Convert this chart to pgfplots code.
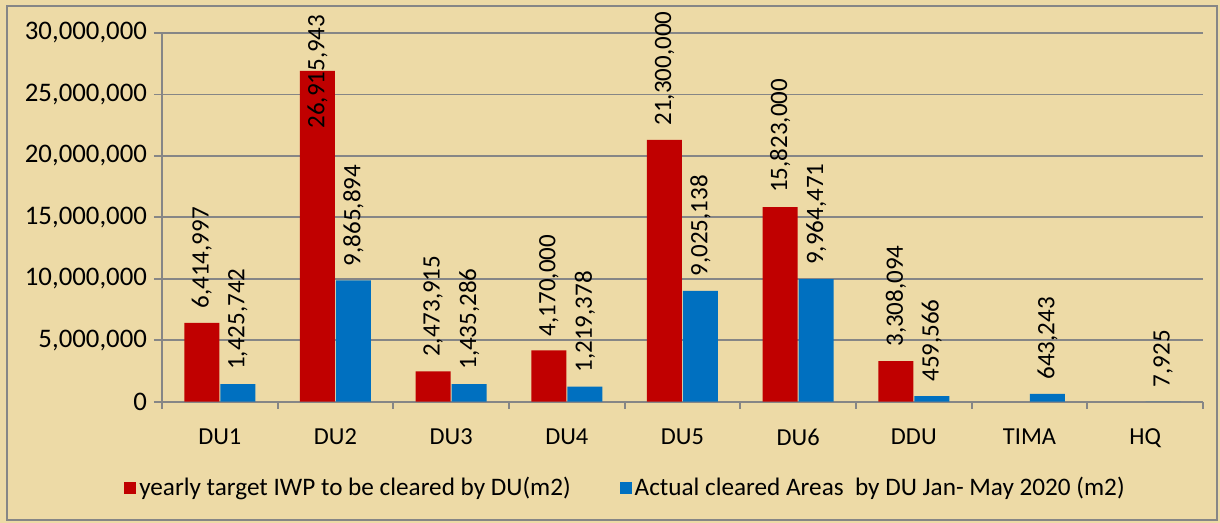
\documentclass[border=0pt]{standalone}
\usepackage{fontspec}
\setmainfont{Carlito}
\usepackage{pgfplots}
\pgfplotsset{compat=1.18}
\usepackage{pgfplotstable}
\definecolor{papyrus}{RGB}{237,218,166}
\definecolor{barred}{RGB}{192,0,0}
\definecolor{barblue}{RGB}{0,112,192}
\definecolor{gridgray}{RGB}{134,134,134}

\pgfplotstableread{
x val ly label
0 6414997 6414997 6,414,997
1 26915943 21050000 26,915,943
2 2473915 2473915 2,473,915
3 4170000 4170000 4,170,000
4 21300000 21300000 21,300,000
5 15823000 15823000 15,823,000
6 3308094 3308094 3,308,094
}\redtab

\pgfplotstableread{
x val ly label
0 1425742 1425742 1,425,742
1 9865894 9865894 9,865,894
2 1435286 1435286 1,435,286
3 1219378 1219378 1,219,378
4 9025138 9025138 9,025,138
5 9964471 9964471 9,964,471
6 459566 459566 459,566
7 643243 643243 643,243
8 7925 7925 7,925
}\bluetab

\begin{document}
\begin{tikzpicture}[font=\fontsize{12}{14.4}\selectfont]
\fill[papyrus] (0,0) rectangle (610pt,261.5pt);
\draw[gridgray, line width=1pt] (3.5pt,1.5pt) rectangle (608.5pt,258.5pt);
\begin{axis}[
  at={(81pt,60.65pt)}, anchor=south west,
  scale only axis, width=520.5pt, height=184.35pt,
  xmin=-0.5, xmax=8.5, ymin=0, ymax=30000000,
  ytick={0,5000000,10000000,15000000,20000000,25000000,30000000},
  scaled y ticks=false,
  yticklabel style={font=\fontsize{13.4}{15}\selectfont, /pgf/number format/.cd, fixed, 1000 sep={,}},
  /pgf/number format/assume math mode=true,
  ymajorgrids, y grid style={gridgray, line width=0.9pt},
  axis x line*=bottom, axis y line*=left,
  axis line style={gridgray, line width=0.9pt},
  xtick={0,1,2,3,4,5,6,7,8},
  xticklabels={DU1,DU2,DU3,DU4,DU5,DU6,DDU,TIMA,HQ},
  major x tick style={draw=none},
  minor xtick={-0.5,0.5,1.5,2.5,3.5,4.5,5.5,6.5,7.5,8.5},
  tick style={gridgray, line width=0.9pt},
  tick align=outside,
  major tick length=4pt, minor tick length=3.5pt,
  xticklabel style={yshift=-6pt, font=\fontsize{12.2}{14.4}\selectfont},
  clip=false,
  legend style={at={(0.4457,-0.2333)}, anchor=center, draw=none, fill=none,
    legend columns=2, font=\fontsize{12.6}{15}\selectfont,
    nodes={inner sep=1.5pt, text depth=0.15em},
    /tikz/every even column/.append style={column sep=23pt}},
]
\addplot[ybar, bar width=17.5pt, bar shift=-9pt, draw=none, fill=barred,
  legend image code/.code={\fill[barred] (0pt,-3pt) rectangle (6pt,3pt);}]
  table[x=x, y=val] {\redtab};
\addlegendentry{yearly target IWP to be cleared by DU(m2)}
\addplot[ybar, bar width=17.5pt, bar shift=9pt, draw=none, fill=barblue,
  legend image code/.code={\fill[barblue] (0pt,-3pt) rectangle (6pt,3pt);}]
  table[x=x, y=val] {\bluetab};
\addlegendentry{Actual cleared Areas\ \ by DU Jan- May 2020 (m2)}
\addplot[draw=none, mark=none, forget plot,
  point meta=explicit symbolic, nodes near coords,
  every node near coord/.append style={rotate=90, anchor=west, inner xsep=7pt, text=black, font=\fontsize{12.5}{15}\selectfont}]
  table[x expr=\thisrow{x}-0.1556, y=ly, meta=label] {\redtab};
\addplot[draw=none, mark=none, forget plot,
  point meta=explicit symbolic, nodes near coords,
  every node near coord/.append style={rotate=90, anchor=west, inner xsep=7pt, text=black, font=\fontsize{12.5}{15}\selectfont}]
  table[x expr=\thisrow{x}+0.1556, y=ly, meta=label] {\bluetab};
\end{axis}
\pgfresetboundingbox
\useasboundingbox (0,0) rectangle (610pt,261.5pt);
\end{tikzpicture}
\end{document}
